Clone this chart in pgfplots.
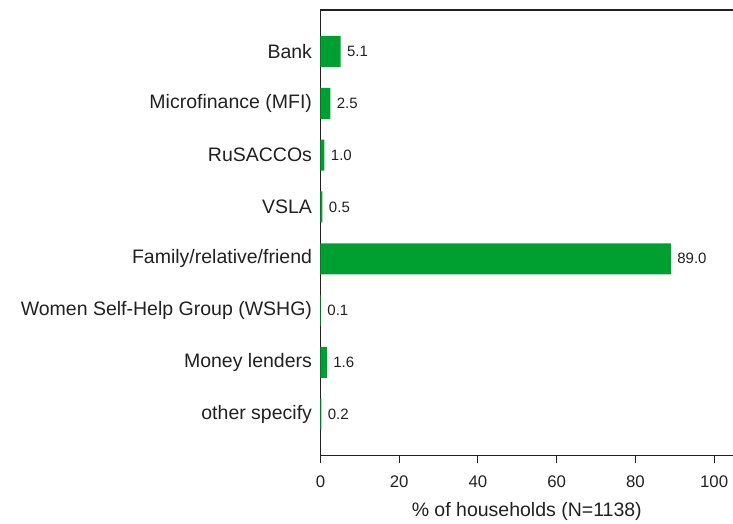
\documentclass[border=0pt]{standalone}
\usepackage{pgfplots}
\pgfplotsset{compat=1.18}
\usepackage{fontspec}
\setmainfont{Liberation Sans}
\definecolor{bargreen}{RGB}{0,160,48}
\definecolor{ink}{gray}{0.13}
\begin{document}
\begin{tikzpicture}[x=1pt,y=1pt]
\path[use as bounding box] (-320.5,-68.3) rectangle (412.5,455.7);
\begin{axis}[
  at={(0,0)}, anchor=south west,
  width=412.5pt, height=445.7pt, scale only axis,
  xbar, bar width=31pt,
  xmin=0, xmax=104.8,
  ymin=0.2, ymax=8.8, y dir=reverse,
  ytick={1,...,8},
  yticklabels={Bank, Microfinance (MFI), RuSACCOs, VSLA, Family/relative/friend,
    Women Self-Help Group (WSHG), Money lenders, other specify},
  xtick={0,20,40,60,80,100},
  axis x line*=bottom, axis y line*=left,
  axis line style={draw=ink, line width=1.2pt},
  x tick style={draw=ink, line width=1pt}, major tick length=7pt,
  tick align=outside,
  y tick style={draw=none},
  yticklabel style={font=\fontsize{19.5}{22}\selectfont, text=ink, xshift=2pt},
  xticklabel style={font=\fontsize{16.8}{20}\selectfont, text=ink, yshift=-10pt},
  /pgf/number format/assume math mode=true,
  xlabel={\% of households (N=1138)},
  xlabel style={font=\fontsize{19.5}{22}\selectfont, text=ink, yshift=-7pt},
  nodes near coords,
  nodes near coords style={font=\fontsize{15}{18}\selectfont, text=ink,
    anchor=west, xshift=3pt,
    /pgf/number format/.cd, fixed, fixed zerofill, precision=1},
  clip=false,
]
\addplot[draw=none, fill=bargreen] coordinates {
  (5.1,1) (2.5,2) (1.0,3) (0.5,4) (89.0,5) (0.1,6) (1.6,7) (0.2,8)};
\draw[draw=ink, line width=1.2pt] (rel axis cs:0,1) -- (rel axis cs:1.02,1);
\end{axis}
\end{tikzpicture}
\end{document}
